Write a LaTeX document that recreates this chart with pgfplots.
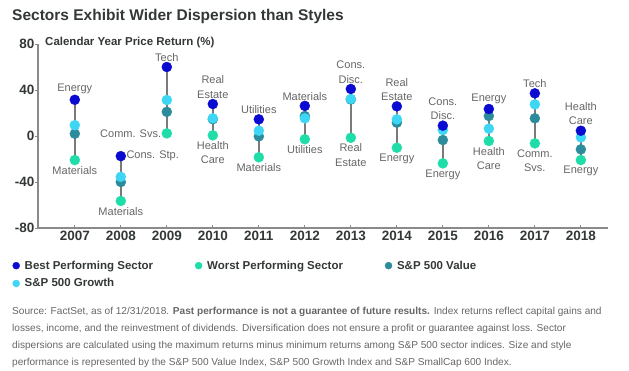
\documentclass[border=0pt]{standalone}
\usepackage{pgfplots}
\pgfplotsset{compat=1.18}
\usepackage{pgfplotstable}
\usepackage{fontspec}
\setmainfont{Liberation Sans}
\definecolor{cbest}{HTML}{0A0AD0}
\definecolor{cworst}{HTML}{1FDDA8}
\definecolor{cvalue}{HTML}{2C8C9C}
\definecolor{cgrowth}{HTML}{3DD6F5}
\definecolor{ctext}{HTML}{333836}
\definecolor{clab}{HTML}{666666}
\definecolor{caxis}{HTML}{8A8A8A}
\definecolor{cline}{HTML}{7A7A7A}
\tikzset{lbl/.style={font=\fontsize{11}{14.5}\selectfont, text=clab, align=center, inner sep=1pt}}

\pgfplotstableread{
year best worst value growth
2007 31.5 -20.9 2.0 9.4
2008 -17.5 -56.5 -40.0 -35.5
2009 60.0 2.3 21.0 31.3
2010 27.8 0.6 14.6 15.4
2011 14.5 -18.5 -0.3 4.6
2012 26.2 -2.8 17.4 15.4
2013 40.9 -1.5 31.7 32.2
2014 25.8 -10.2 11.6 14.5
2015 9.0 -23.8 -3.5 5.2
2016 23.5 -4.3 17.4 6.4
2017 37.1 -6.4 15.4 27.5
2018 4.6 -20.9 -11.6 -1.2
}\data

\begin{document}
\begin{tikzpicture}
\path[use as bounding box] (0pt,0pt) rectangle (629pt,-370pt);
\node[anchor=west, font=\fontsize{15.5}{18}\selectfont\bfseries, text=ctext, inner sep=0pt] at (12pt,-16pt) {Sectors Exhibit Wider Dispersion than Styles};
\node[anchor=west, font=\fontsize{11.5}{14}\selectfont\bfseries, text=ctext, inner sep=0pt] at (45pt,-43pt) {Calendar Year Price Return (\%)};
\begin{axis}[
  at={(38pt,-44pt)}, anchor=north west,
  scale only axis, width=570pt, height=184pt,
  xmin=2006.2, xmax=2018.59, ymin=-80, ymax=80,
  axis x line*=bottom, axis y line*=left,
  axis line style={draw=caxis, line width=1.1pt},
  xtick={2007,2008,2009,2010,2011,2012,2013,2014,2015,2016,2017,2018},
  xticklabels={2007,2008,2009,2010,2011,2012,2013,2014,2015,2016,2017,2018},
  ytick={-80,-40,0,40,80},
  yticklabels={-80,-40,0,40,80},
  tick align=inside, major tick length=3pt,
  tick style={draw=caxis, line width=1pt},
  y tick style={xshift=-3pt},
  ticklabel style={font=\fontsize{13.5}{16}\selectfont\bfseries, text=ctext},
  legend style={at={(-0.05,-0.155)}, anchor=north west, draw=none, fill=none,
    font=\fontsize{11.5}{14}\selectfont\bfseries, text=ctext,
    /tikz/every even column/.append style={column sep=40pt},
    /tikz/every odd column/.append style={column sep=3pt}, row sep=4pt},
  legend columns=3, legend cell align=left,
  legend image code/.code={\draw[#1] plot coordinates {(0pt,0pt)};},
  clip=false,
]
\addplot[cline, line width=1.5pt, forget plot, unbounded coords=jump] coordinates {
(2007,31.5) (2007,-20.9) (2007,nan)
(2008,-17.5) (2008,-56.5) (2008,nan)
(2009,60.0) (2009,2.3) (2009,nan)
(2010,27.8) (2010,0.6) (2010,nan)
(2011,14.5) (2011,-18.5) (2011,nan)
(2012,26.2) (2012,-2.8) (2012,nan)
(2013,40.9) (2013,-1.5) (2013,nan)
(2014,25.8) (2014,-10.2) (2014,nan)
(2015,9.0) (2015,-23.8) (2015,nan)
(2016,23.5) (2016,-4.3) (2016,nan)
(2017,37.1) (2017,-6.4) (2017,nan)
(2018,4.6) (2018,-20.9)
};
\addplot[only marks, mark=*, mark size=5pt, cvalue, forget plot] table[x=year,y=value]{\data};
\addplot[only marks, mark=*, mark size=5pt, cgrowth, forget plot] table[x=year,y=growth]{\data};
\addplot[only marks, mark=*, mark size=5pt, cworst, forget plot] table[x=year,y=worst]{\data};
\addplot[only marks, mark=*, mark size=5pt, cbest, forget plot] table[x=year,y=best]{\data};

\addlegendimage{only marks, mark=*, mark size=3.5pt, cbest}
\addlegendentry{Best Performing Sector}
\addlegendimage{only marks, mark=*, mark size=3.5pt, cworst}
\addlegendentry{Worst Performing Sector}
\addlegendimage{only marks, mark=*, mark size=3.5pt, cvalue}
\addlegendentry{S\&P 500 Value}
\addlegendimage{only marks, mark=*, mark size=3.5pt, cgrowth}
\addlegendentry{S\&P 500 Growth}

% best labels
\node[lbl, above=4.5pt] at (axis cs:2007,31.5) {Energy};
\node[lbl, right=4.5pt] at (axis cs:2008,-17.5) {Cons. Stp.};
\node[lbl, above=4.5pt] at (axis cs:2009,60.0) {Tech};
\node[lbl, above=4.5pt] at (axis cs:2010,27.8) {Real\\Estate};
\node[lbl, above=4.5pt] at (axis cs:2011,14.5) {Utilities};
\node[lbl, above=4.5pt] at (axis cs:2012,26.2) {Materials};
\node[lbl, above=4.5pt] at (axis cs:2013,40.9) {Cons.\\Disc.};
\node[lbl, above=4.5pt] at (axis cs:2014,25.8) {Real\\Estate};
\node[lbl, above=4.5pt] at (axis cs:2015,9.0) {Cons.\\Disc.};
\node[lbl, above=4.5pt] at (axis cs:2016,23.5) {Energy};
\node[lbl, above=4.5pt] at (axis cs:2017,37.1) {Tech};
\node[lbl, above=4.5pt] at (axis cs:2018,4.6) {Health\\Care};
% worst labels
\node[lbl, below=5pt] at (axis cs:2007,-20.9) {Materials};
\node[lbl, below=5pt] at (axis cs:2008,-56.5) {Materials};
\node[lbl, left=4.5pt] at (axis cs:2009,2.3) {Comm. Svs.};
\node[lbl, below=5pt] at (axis cs:2010,0.6) {Health\\Care};
\node[lbl, below=5pt] at (axis cs:2011,-18.5) {Materials};
\node[lbl, below=5pt] at (axis cs:2012,-2.8) {Utilities};
\node[lbl, below=5pt] at (axis cs:2013,-1.5) {Real\\Estate};
\node[lbl, below=5pt] at (axis cs:2014,-10.2) {Energy};
\node[lbl, below=5pt] at (axis cs:2015,-23.8) {Energy};
\node[lbl, below=5pt] at (axis cs:2016,-4.3) {Health\\Care};
\node[lbl, below=5pt] at (axis cs:2017,-6.4) {Comm.\\Svs.};
\node[lbl, below=5pt] at (axis cs:2018,-20.9) {Energy};
\end{axis}
\node[anchor=north west, align=left, font=\fontsize{10.1}{17}\selectfont, text=clab, inner sep=0pt] at (12pt,-307pt) {Source: FactSet, as of 12/31/2018. \textbf{Past performance is not a guarantee of future results.} Index returns reflect capital gains and\\losses, income, and the reinvestment of dividends. Diversification does not ensure a profit or guarantee against loss. Sector\\dispersions are calculated using the maximum returns minus minimum returns among S\&P 500 sector indices. Size and style\\performance is represented by the S\&P 500 Value Index, S\&P 500 Growth Index and S\&P SmallCap 600 Index.};
\end{tikzpicture}
\end{document}
